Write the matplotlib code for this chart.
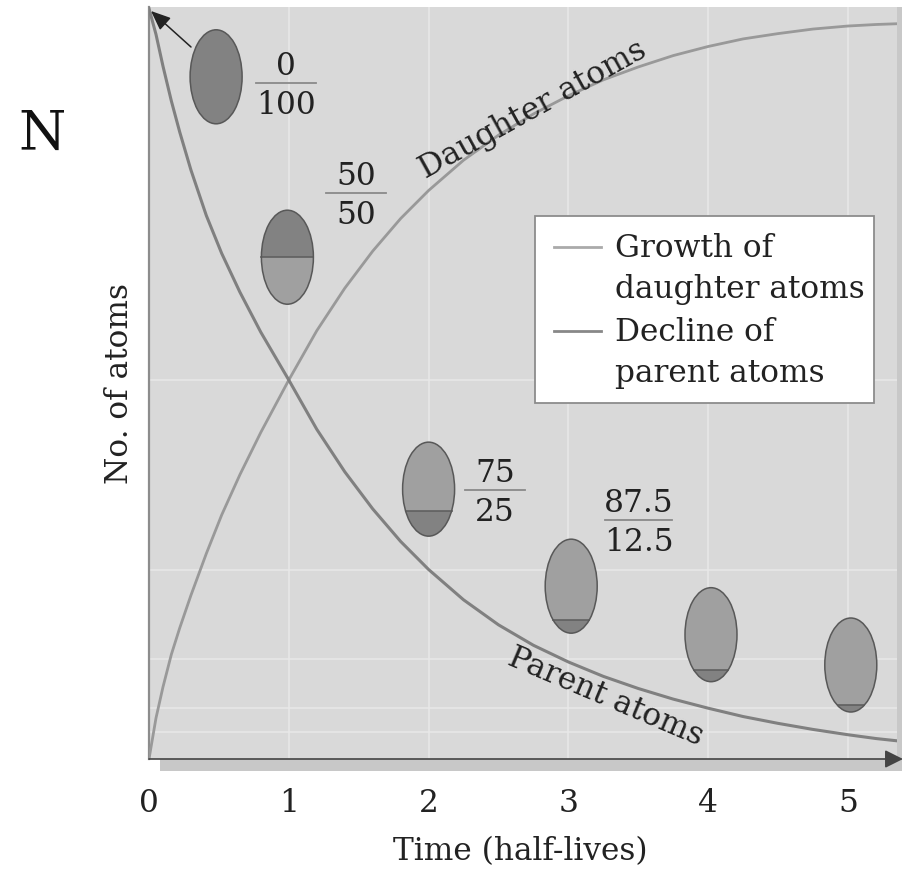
import numpy as np
import matplotlib
matplotlib.use('Agg')
import matplotlib.pyplot as plt
from matplotlib.patches import Ellipse, Rectangle

plt.rcParams['font.family'] = ['DejaVu Serif']

# values
time = [0, 0.05, 0.1, 0.16, 0.22, 0.3, 0.41, 0.52, 0.65, 0.8, 1, 1.2, 1.4, 1.6, 1.8, 2, 2.25, 2.5, 2.75,
        3, 3.25, 3.5, 3.75, 4, 4.25, 4.5, 4.75, 5, 5.2, 5.35]
parent = [99, 95.6, 91.4, 86.8, 82.7, 77.7, 71.7, 66.7, 61.6, 56.3, 50, 43.5, 37.9, 33, 28.7, 25, 21, 17.7, 15,
          12.8, 10.9, 9.3, 7.9, 6.7, 5.6, 4.7, 3.9, 3.2, 2.7, 2.4]
daughter = [0, 5.4, 9.5, 13.8, 17.3, 21.6, 27.1, 32.2, 37.5, 43.1, 50, 56.5, 62.1, 67, 71.3, 75, 79, 82.3, 85.1,
            87.5, 89.6, 91.3, 92.8, 94, 95, 95.7, 96.3, 96.7, 96.9, 97]

grid_x = [1, 2, 3, 4, 5]
grid_y = [50, 25, 13.2, 6.7, 3.6]
tick_labels = ['0', '1', '2', '3', '4', '5']

# ellipse time position, height on the y axis, share of its height that is dark
flask_x = [0.48, 0.99, 2.0, 3.02, 4.02, 5.02]
flask_y = [90, 66.2, 35.6, 22.8, 16.4, 12.4]
flask_dark = [100, 50, 27, 14, 12.5, 7]

fractions = [('0', '100', 256, 316, 84), ('50', '50', 326, 386, 194),
             ('75', '25', 465, 525, 491), ('87.5', '12.5', 605, 672, 521)]

W, H = 903, 870
TEXT = '#222222'
FS = 22.5
fig = plt.figure(figsize=(W / 100, H / 100), dpi=100)
fig.patches.append(Rectangle((160 / W, 1 - 772 / H), (W - 160) / W, 12 / H, transform=fig.transFigure,
                             fc='#c8c8c8', ec='none'))
fig.patches.append(Rectangle((897 / W, 1 - 772 / H), 6 / W, 764 / H, transform=fig.transFigure,
                             fc='#c8c8c8', ec='none'))
ax = fig.add_axes([149 / W, 1 - 760 / H, 748 / W, 752 / H])
ax.set_zorder(2)  # figure patches would sit on top of the axes otherwise
ax.set_facecolor('#d9d9d9')
ax.set_xlim(0, 748 / 139.8)
ax.set_ylim(0, 752 / 7.58)
for s in ax.spines.values():
    s.set_visible(False)


def px(x, y):
    # picture pixels to data, for the annotations
    return (x - 149) / 139.8, (760 - y) / 7.58


ax.vlines(grid_x, 0, 752 / 7.58, color='#e8e8e8', lw=1.1, zorder=1)
ax.hlines(grid_y, 0, 748 / 139.8, color='#e8e8e8', lw=1.1, zorder=1)

ax.plot(time, daughter, color='#999999', lw=2.0, zorder=3, solid_joinstyle='round')
ax.plot(time, parent, color='#808080', lw=2.2, zorder=3, solid_joinstyle='round')

# flasks
fw, fh = 52 / 139.8, 94 / 7.58
for x, y, p in zip(flask_x, flask_y, flask_dark):
    ax.add_patch(Ellipse((x, y), fw, fh, fc='#a0a0a0', ec='none', zorder=4))
    dark = Ellipse((x, y), fw, fh, fc='#828282', ec='none', zorder=4.1)
    ax.add_patch(dark)
    if p < 100:
        line_y = y - fh / 2 + fh * p / 100
        if p == 50:
            clip = Rectangle((x - fw, line_y), 2 * fw, fh, transform=ax.transData)
        else:
            clip = Rectangle((x - fw, y - fh), 2 * fw, fh / 2 + fh * p / 100, transform=ax.transData)
        dark.set_clip_path(clip)
        half = fw / 2 * np.sqrt(max(0, 1 - ((line_y - y) / (fh / 2)) ** 2))
        ax.plot([x - half, x + half], [line_y, line_y], color='#606060', lw=1.2, zorder=4.3)
    ax.add_patch(Ellipse((x, y), fw, fh, fc='none', ec='#585858', lw=1.1, zorder=4.4))

# ratios next to the flasks
for top, bottom, x0, x1, y in fractions:
    a, b = px(x0, y), px(x1, y)
    ax.plot([a[0], b[0]], [a[1], b[1]], color='#8a8a8a', lw=1.3, zorder=5)
    xc = (a[0] + b[0]) / 2
    ax.text(xc, px(0, y - 2)[1], top, ha='center', va='bottom', fontsize=FS, color=TEXT, zorder=5)
    ax.text(xc, px(0, y + 6)[1], bottom, ha='center', va='top', fontsize=FS, color=TEXT, zorder=5)

ax.text(*px(533, 110), 'Daughter atoms', rotation=29, rotation_mode='anchor', ha='center', va='center',
        fontsize=FS, color=TEXT, zorder=5)
ax.text(*px(606, 697), 'Parent atoms', rotation=-23, rotation_mode='anchor', ha='center', va='center',
        fontsize=FS, color=TEXT, zorder=5)

# legend box
lx, ly = px(535, 404)
rx, ry = px(874, 217)
ax.add_patch(Rectangle((lx, ly), rx - lx, ry - ly, fc='white', ec='#8c8c8c', lw=1.3, zorder=6))
ax.plot([px(554, 0)[0], px(601, 0)[0]], [px(0, 248)[1]] * 2, color='#aaaaaa', lw=2, zorder=7)
ax.plot([px(554, 0)[0], px(601, 0)[0]], [px(0, 332)[1]] * 2, color='#888888', lw=2, zorder=7)
for label, y in zip(['Growth of', 'daughter atoms', 'Decline of', 'parent atoms'], [249, 290, 333, 374]):
    ax.text(*px(615, y), label, ha='left', va='center', fontsize=FS, color=TEXT, zorder=7)

# arrows
ax.annotate('', xy=px(151, 12), xytext=px(191, 48),
            arrowprops=dict(arrowstyle='-|>,head_length=0.6,head_width=0.25', color='#222222', lw=1.1,
                            mutation_scale=20, shrinkA=0, shrinkB=0), zorder=5)
ax.plot([0, 0], [0, 752 / 7.58], color='#8c8c8c', lw=1.6, zorder=2, clip_on=False)
ax.annotate('', xy=(754 / 139.8, 0), xytext=(0, 0), xycoords='data', annotation_clip=False,
            arrowprops=dict(arrowstyle='-|>,head_length=0.5,head_width=0.25', color='#444444', lw=1.2,
                            mutation_scale=22, shrinkA=0, shrinkB=0), zorder=5)

ax.set_xticks(range(6))
ax.set_xticklabels(tick_labels, fontsize=FS, color=TEXT)
ax.set_yticks([])
ax.tick_params(axis='x', length=0, pad=20)
fig.text(520 / W, 1 - 852 / H, 'Time (half-lives)', ha='center', va='center', fontsize=FS, color=TEXT)
fig.text(120 / W, 1 - 383 / H, 'No. of atoms', ha='center', va='center', rotation=90, fontsize=FS, color=TEXT)
fig.text(42 / W, 1 - 135 / H, 'N', ha='center', va='center', fontsize=39, color='#111111')

fig.savefig('out.png', dpi=100)
